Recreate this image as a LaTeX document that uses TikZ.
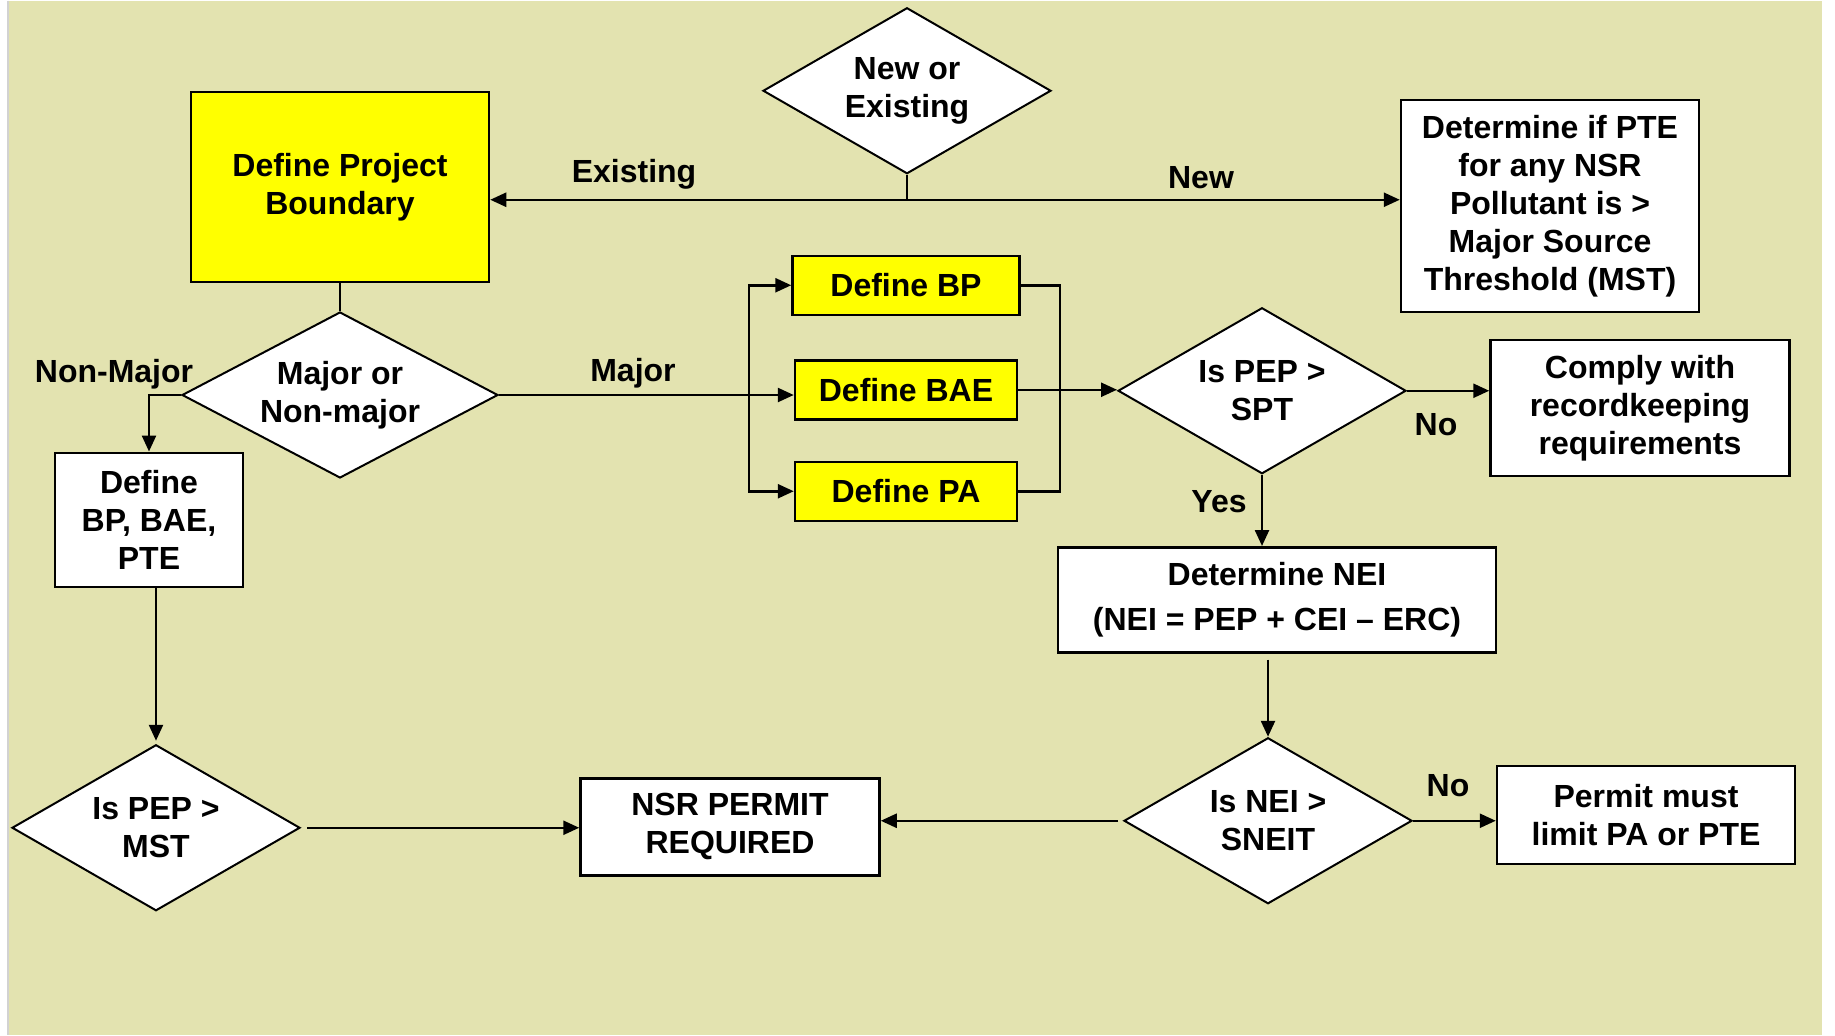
\documentclass[tikz,border=0pt]{standalone}
\usepackage{fontspec}
\setmainfont{Liberation Sans}
\usetikzlibrary{shapes.geometric,arrows.meta,positioning}
\definecolor{bgkhaki}{RGB}{227,227,176}
\definecolor{boxyellow}{RGB}{255,255,0}

\begin{document}
\begin{tikzpicture}[
            x = 1pt, y = -1pt, % one unit per pixel, y grows downwards
            > = {Triangle[length=16pt,width=14pt]}, % arrow head style
            line width = 2.5pt, % line style
            font = \fontsize{32}{38}\selectfont\bfseries
        ]

        \tikzstyle{block}=[
            draw = black,
            fill = white,
            align = center,
            inner sep = 0pt
        ]
        \tikzstyle{yblock}=[block, fill = boxyellow]
        \tikzstyle{decision}=[
            diamond,
            aspect = 1.73,
            draw = black,
            line width = 2pt,
            fill = white,
            align = center,
            inner sep = 0pt,
            minimum width = 288pt,
            minimum height = 166pt
        ]
        \tikzstyle{lbl}=[inner sep = 0pt, anchor = base]

        % background
        \fill[white] (0,0) rectangle (1835,1034);
        \fill[bgkhaki] (9,0) rectangle (1822,1034);
        \draw[gray!35, line width = 1.5pt] (8,0) -- (8,1034);
        \useasboundingbox (0,0) rectangle (1835,1034);

        \node[decision] (newex) at (907,90) {New or\\Existing};
        \node[yblock, minimum width = 298pt, minimum height = 190pt] (dpb) at (340,186) {Define Project\\Boundary};
        \node[block, minimum width = 298pt, minimum height = 212pt] (ptemst) at (1550,205) {Determine if PTE\\for any NSR\\Pollutant is >\\Major Source\\Threshold (MST)};
        \node[decision, aspect = 1.9, minimum width = 316pt] (majnon) [below = 28pt of dpb] {Major or\\Non-major};
        \node[block, minimum width = 188pt, minimum height = 134pt] (defall) at (149,519) {Define\\BP, BAE,\\PTE};
        \node[decision] (pepmst) at (156,827) {Is PEP >\\MST};
        \node[block, minimum width = 299pt, minimum height = 97pt] (nsr) at (730,826) {NSR PERMIT\\REQUIRED};

        \node[yblock, minimum width = 222pt, minimum height = 59pt] (dbae) at (906,389) {Define BAE};
        \node[yblock, minimum width = 227pt, minimum height = 59pt] (dbp) [above = 43pt of dbae] {Define BP};
        \node[yblock, minimum width = 222pt, minimum height = 59pt] (dpa) [below = 40pt of dbae] {Define PA};

        \node[decision] (pepspt) at (1262,390) {Is PEP >\\SPT};
        \node[block, minimum width = 299pt, minimum height = 136pt] (comply) at (1640,407) {Comply with\\recordkeeping\\requirements};
        \node[block, minimum width = 438pt, minimum height = 105pt] (nei) at (1277,599) {Determine NEI\\[7pt](NEI = PEP + CEI – ERC)};
        \node[decision] (neisneit) at (1268,820) {Is NEI >\\SNEIT};
        \node[block, minimum width = 298pt, minimum height = 98pt] (permit) at (1646,814) {Permit must\\limit PA or PTE};

        % branch labels
        \node[lbl] (lexist) at (634,182) {Existing};
        \node[lbl] (lnew) at (1201,188) {New};
        \node[lbl] (lmajor) at (633,381) {Major};
        \node[lbl] (lnonmaj) at (114,382) {Non-Major};
        \node[lbl] (lnoa) at (1436,435) {No};
        \node[lbl] (lyes) at (1219,512) {Yes};
        \node[lbl] (lnob) at (1448,796) {No};

        \coordinate (nejoin) at (907,199);
        \coordinate (mjoin) at (749,392);
        \coordinate (rbar) at (1060,389);

        \draw (newex.south) -- (nejoin);
        \draw[->] (nejoin) -- (nejoin -| dpb.east);
        \draw[->] (nejoin) -- (nejoin -| ptemst.west);
        \draw (dpb.south) -- (majnon.north);
        \draw[->] (majnon.east) -- (majnon.east -| dbae.west);
        \draw[->] (mjoin) |- (dbp.west);
        \draw[->] (mjoin) |- (dpa.west);
        \draw[->] (majnon.west) -| (defall.north);
        \draw[->, shorten > = 3pt] (pepmst.north |- defall.south) -- (pepmst.north);
        \draw[->, shorten < = 6pt] (pepmst.east) -- (pepmst.east -| nsr.west);
        \draw (dbp.east) -| (rbar) |- (dpa.east);
        \draw[->] (dbae.east) -- (dbae.east -| pepspt.west);
        \draw[->] (pepspt.east) -- (pepspt.east -| comply.west);
        \draw[->] (pepspt.south) -- (pepspt.south |- nei.north);
        \draw[->, shorten < = 6pt] (neisneit.north |- nei.south) -- (neisneit.north);
        \draw[->, shorten < = 5pt] (neisneit.west) -- (neisneit.west -| nsr.east);
        \draw[->] (neisneit.east) -- (neisneit.east -| permit.west);

    \end{tikzpicture}
\end{document}
